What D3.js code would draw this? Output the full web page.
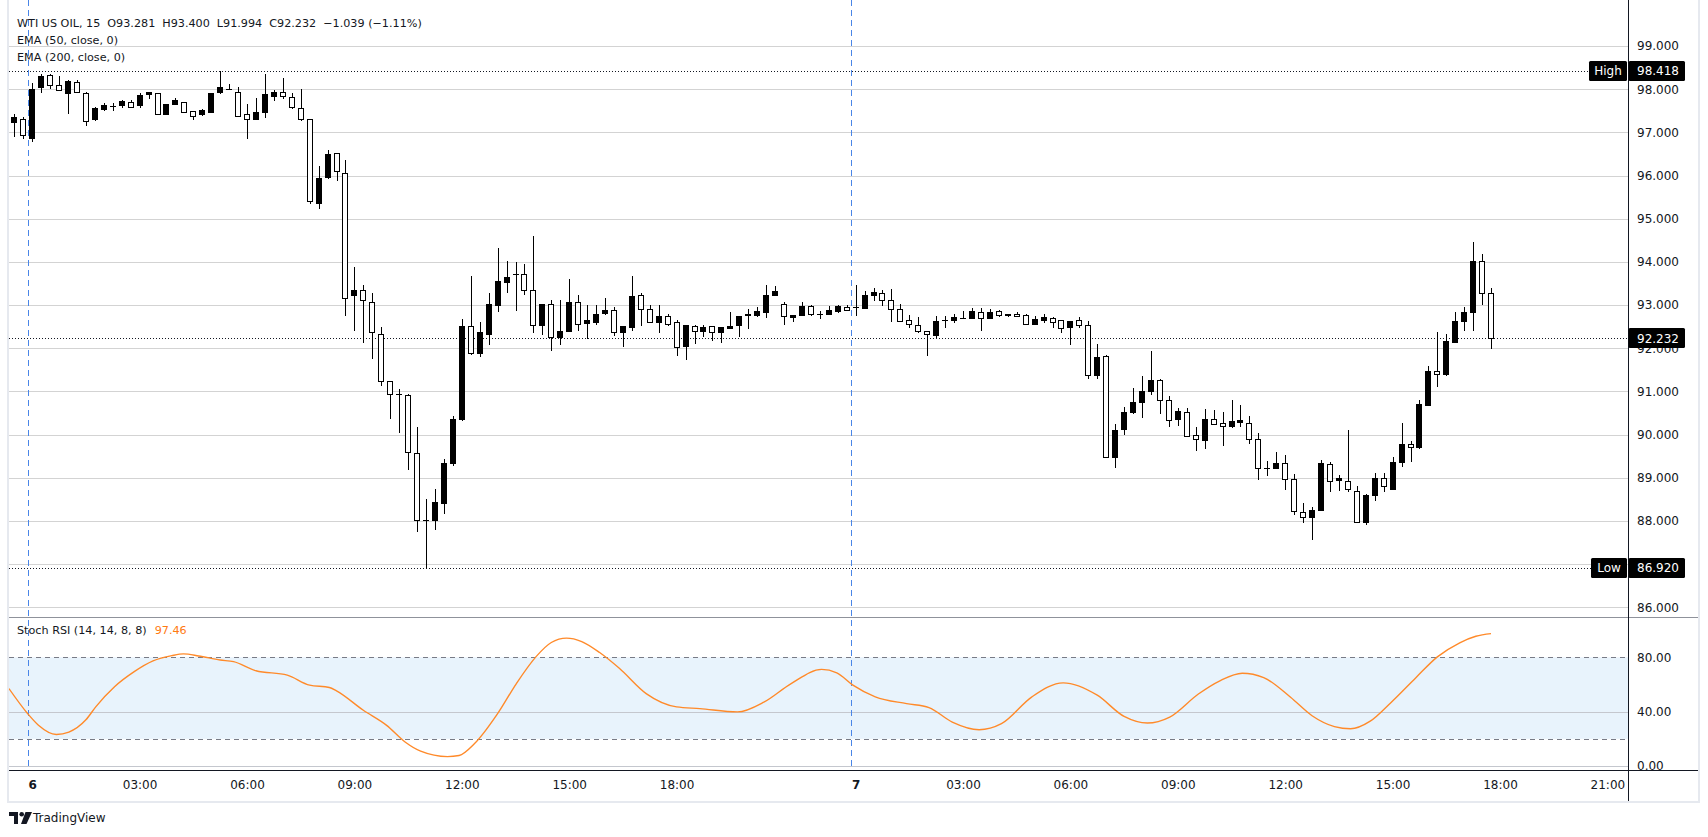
<!DOCTYPE html>
<html><head><meta charset="utf-8">
<script src="https://cdn.jsdelivr.net/npm/d3@7"></script>
<style>
body{margin:0;background:#fff}
svg{display:block}
text{font-family:"DejaVu Sans",Verdana,sans-serif;fill:#131722}
</style></head>
<body><svg id="c" width="1708" height="837"></svg>
<script>
// ---------------- DATA ----------------
const symbolTitle = "WTI US OIL, 15";
const legendOHLC = ["O93.281","H93.400","L91.994","C92.232","\u22121.039 (\u22121.11%)"];
const emaLabels = ["EMA (50, close, 0)","EMA (200, close, 0)"];
const opens = [97.23,97.32,96.86,98.04,98.32,98.09,97.91,98.17,97.92,97.31,
97.53,97.60,97.64,97.70,97.63,97.89,97.90,97.43,97.65,97.71,
97.50,97.42,97.47,97.93,98.00,97.94,97.42,97.31,97.47,97.84,
97.94,97.82,97.57,97.32,95.37,95.97,96.52,96.07,93.23,93.34,
93.08,92.34,91.24,90.93,90.91,89.58,88.02,88.02,88.41,89.34,
90.37,92.51,91.90,92.33,93.00,93.54,93.71,93.71,93.36,92.54,
93.02,92.25,92.41,93.06,92.59,92.61,92.82,92.88,92.37,92.49,
93.23,92.91,92.61,92.74,92.61,92.05,92.51,92.41,92.51,92.37,
92.48,92.53,92.76,92.78,92.84,93.23,93.02,92.73,92.78,92.98,
92.80,92.80,92.87,92.96,92.96,92.94,93.24,93.29,93.11,92.92,
92.65,92.53,92.41,92.30,92.65,92.66,92.70,92.70,92.84,92.69,
92.86,92.80,92.79,92.76,92.57,92.66,92.69,92.65,92.50,92.65,
92.53,91.39,91.81,89.49,90.12,90.53,90.76,91.01,91.27,90.79,
90.35,90.52,89.98,89.87,90.35,90.27,90.19,90.30,90.28,89.90,
89.22,89.22,89.34,88.98,88.20,88.09,88.25,89.32,88.94,88.93,
88.70,87.98,88.59,89.00,88.74,89.36,89.78,89.72,90.69,91.47,
91.41,92.15,92.63,92.83,94.02,93.281];
const highs = [97.43,97.35,98.14,98.36,98.34,98.30,98.22,98.22,97.94,97.59,
97.69,97.69,97.74,97.75,97.90,97.93,97.92,97.66,97.80,97.71,
97.50,97.54,97.90,98.418,98.12,98.05,97.65,97.79,98.34,97.98,
98.26,97.90,98.00,97.32,96.22,96.59,96.53,96.37,93.88,93.46,
93.27,92.49,91.24,91.05,90.93,90.18,88.50,88.74,89.43,90.44,
92.67,93.67,92.60,93.27,94.31,94.02,93.99,93.94,94.61,93.02,
93.11,93.11,93.60,93.23,93.00,93.00,93.16,92.96,92.51,93.67,
93.27,93.00,93.00,92.80,92.66,92.53,92.54,92.53,92.51,92.49,
92.83,92.74,92.91,92.96,93.47,93.44,93.07,92.77,93.08,93.01,
92.86,92.98,92.99,92.99,93.46,93.32,93.39,93.35,93.38,93.02,
92.76,92.73,92.41,92.75,92.75,92.79,92.86,92.94,92.94,92.91,
92.88,92.80,92.83,92.80,92.75,92.79,92.73,92.65,92.62,92.73,
92.62,92.09,91.85,90.25,90.65,91.08,91.35,91.93,91.29,90.89,
90.61,90.61,90.18,90.59,90.57,90.53,90.81,90.69,90.43,90.04,
89.39,89.59,89.53,89.08,88.42,88.32,89.42,89.36,89.06,90.10,
88.82,88.62,89.12,89.10,89.48,90.26,89.86,90.81,91.59,92.37,
92.33,92.83,92.96,94.45,94.18,93.400];
const lows = [96.92,96.87,96.81,97.94,98.02,97.97,97.45,97.94,97.17,97.29,
97.51,97.51,97.59,97.59,97.59,97.80,97.43,97.43,97.65,97.46,
97.31,97.40,97.47,97.91,98.00,97.37,96.87,97.31,97.35,97.75,
97.80,97.57,97.29,95.37,95.25,95.94,95.90,92.78,92.43,92.14,
91.77,91.16,90.39,90.07,89.20,87.76,86.92,87.81,88.18,89.30,
90.33,91.87,91.82,92.10,92.87,93.31,92.89,93.26,92.38,92.33,
91.95,92.10,92.41,92.43,92.24,92.57,92.80,92.30,92.06,92.43,
92.54,92.61,92.37,92.53,91.85,91.75,92.13,92.29,92.19,92.14,
92.48,92.29,92.48,92.75,92.73,93.23,92.57,92.64,92.77,92.77,
92.69,92.80,92.85,92.88,92.76,92.94,93.11,93.00,92.64,92.62,
92.50,92.38,91.85,92.26,92.50,92.60,92.70,92.70,92.43,92.69,
92.75,92.75,92.74,92.55,92.57,92.60,92.50,92.38,92.10,92.50,
91.31,91.31,89.47,89.26,90.02,90.51,90.41,90.95,90.51,90.19,
90.22,89.96,89.64,89.70,90.24,89.75,90.17,90.21,89.80,88.98,
89.06,89.22,88.74,88.16,87.98,87.59,88.25,88.70,88.72,88.70,
87.98,87.94,88.49,88.70,88.74,89.27,89.38,89.70,90.69,91.13,
91.39,92.15,92.43,92.43,93.02,91.994];
const closes = [97.36,96.95,98.00,98.30,98.09,97.98,98.20,97.94,97.27,97.56,
97.63,97.61,97.72,97.59,97.86,97.93,97.43,97.65,97.74,97.46,
97.39,97.51,97.90,98.06,98.00,97.39,97.30,97.46,97.88,97.94,
97.85,97.59,97.32,95.42,95.95,96.49,96.10,93.16,93.34,93.11,
92.37,91.24,90.93,90.93,89.59,88.02,88.03,88.44,89.34,90.37,
92.51,91.89,92.37,93.02,93.55,93.66,93.71,93.36,92.54,93.02,
92.25,92.41,93.06,92.57,92.65,92.80,92.88,92.37,92.51,93.20,
92.91,92.61,92.74,92.57,92.03,92.53,92.41,92.49,92.37,92.49,
92.51,92.74,92.79,92.86,93.23,93.32,92.74,92.77,92.98,92.79,
92.80,92.88,92.97,92.88,92.96,93.23,93.30,93.11,92.91,92.62,
92.55,92.41,92.32,92.62,92.65,92.73,92.70,92.86,92.69,92.83,
92.78,92.76,92.74,92.57,92.67,92.73,92.61,92.46,92.62,92.54,
91.37,91.79,89.47,90.10,90.53,90.76,91.01,91.27,90.79,90.33,
90.54,89.96,89.90,90.37,90.24,90.21,90.31,90.33,89.90,89.22,
89.22,89.34,88.96,88.22,88.09,88.25,89.34,88.92,89.00,88.73,
87.98,88.60,89.00,88.80,89.37,89.78,89.72,90.71,91.47,91.41,
92.17,92.63,92.83,94.02,93.27,92.232];
const highValue = 98.418, lowValue = 86.920, lastValue = 92.232;
const priceTicks = [86,87,88,89,90,91,92,93,94,95,96,97,98,99];
const stochTicks = [0,40,80];
const stochBands = [20,80];
const stochIdx = [-0.6,1.5,2.7,4.7,6.1,8.0,9.1,11.2,13.4,15.5,17.6,18.9,20.6,23,24.5,27,30.5,33,35.2,36,39,41.6,43.7,45.4,48.4,49.7,51.4,54,56.1,58.3,60,61.7,63.4,65.4,67.6,70.6,74,76.6,80.8,83.8,86.8,90.2,91.9,93.7,96.2,99.7,102.2,104.8,107.8,110.3,113.7,117.2,121,124,126.6,129.1,132.3,134.7,137.2,139.6,142.6,145,147.5,149.3,151.5,153.8,156.6,159,161.5,163.3,165];
const stochVal = [57,38.5,30,23.2,25,34,43.5,58.3,69.4,77.3,81.2,82.5,81,78,76.8,70.1,66.9,59.5,57.8,55.3,41,29.9,17.5,10.9,6.9,7.7,16.3,38.5,60.7,80.5,90.9,94.1,91.6,83.5,71.9,53.3,43.5,42.2,39.8,47.2,60.7,71.1,68.6,59.5,50.9,45.9,43,32.3,26.7,31.1,50.9,61.2,52.1,36.5,31.6,36,53,62.7,68.3,65.1,50.6,37,29,27.4,33,46.6,65,80.3,90.7,95.5,97.46];
const stochTitle = "Stoch RSI (14, 14, 8, 8)";
const stochLast = "97.46";
const timeTickIdx = [2,14,26,38,50,62,74,94,106,118,130,142,154,166,178];
const timeTickLabels = ["6","03:00","06:00","09:00","12:00","15:00","18:00","7","03:00","06:00","09:00","12:00","15:00","18:00","21:00"];
const sessionBreaks = [1.5,93.5];

// ---------------- LAYOUT ----------------
const L = 9, R = 1698, AX = 1628.5, PB = 617.5, SB = 770.5, FB = 801;
const svg = d3.select("#c");
const x = d3.scaleLinear().domain([0,165]).range([14.3,1491.05]);
const y = d3.scaleLinear().domain([86,99]).range([607.3,46]);
const ys = d3.scaleLinear().domain([0,80]).range([766,657.3]);

const defs = svg.append("defs");
defs.append("clipPath").attr("id","cp").append("rect").attr("x",L).attr("y",0).attr("width",AX-L).attr("height",PB);
defs.append("clipPath").attr("id","cs").append("rect").attr("x",L).attr("y",PB).attr("width",AX-L).attr("height",SB-PB);
defs.append("clipPath").attr("id","cl").append("rect").attr("x",AX).attr("y",PB+1).attr("width",R-AX).attr("height",SB-PB-1);

// frame
svg.append("rect").attr("x",L-1).attr("y",-2).attr("width",R-L+2).attr("height",FB+3)
  .attr("fill","none").attr("stroke","#e6e9ef").attr("stroke-width",2);

// price grid
const gp = svg.append("g").attr("clip-path","url(#cp)");
gp.selectAll("line.g").data(priceTicks).join("line")
  .attr("x1",L).attr("x2",AX).attr("y1",d=>Math.round(y(d))+0.5).attr("y2",d=>Math.round(y(d))+0.5)
  .attr("stroke","#d3d3d3");

// stoch band + grid
const gs = svg.append("g").attr("clip-path","url(#cs)");
gs.append("rect").attr("x",L).attr("width",AX-L).attr("y",ys(stochBands[1])).attr("height",ys(stochBands[0])-ys(stochBands[1]))
  .attr("fill","#e8f3fc");
gs.selectAll("line.g").data(stochTicks.filter(d=>d!==80)).join("line")
  .attr("x1",L).attr("x2",AX).attr("y1",d=>Math.round(ys(d))+0.5).attr("y2",d=>Math.round(ys(d))+0.5)
  .attr("stroke","#c4c7ce");
gs.selectAll("line.b").data(stochBands).join("line")
  .attr("x1",L).attr("x2",AX).attr("y1",d=>Math.round(ys(d))+0.5).attr("y2",d=>Math.round(ys(d))+0.5)
  .attr("stroke","#787b86").attr("stroke-dasharray","5 4");

// session breaks
svg.append("g").selectAll("line").data(sessionBreaks).join("line")
  .attr("x1",d=>Math.round(x(d))+0.5).attr("x2",d=>Math.round(x(d))+0.5).attr("y1",0).attr("y2",SB)
  .attr("stroke","#4985e7").attr("stroke-dasharray","6 4");

// dotted hi/lo/last
const dot = svg.append("g");
[[highValue,1589],[lowValue,1591],[lastValue,AX]].forEach(([v,xe])=>{
  dot.append("line").attr("x1",L).attr("x2",xe).attr("y1",Math.round(y(v))+0.5).attr("y2",Math.round(y(v))+0.5)
    .attr("stroke","#131722").attr("stroke-dasharray","1 2");
});

// candles
const candles = opens.map((o,i)=>({i,o,h:highs[i],l:lows[i],c:closes[i]}));
const gc = svg.append("g").attr("clip-path","url(#cp)");
candles.forEach(d=>{
  const cx = Math.round(x(d.i));
  const up = d.c >= d.o;
  gc.append("line").attr("x1",cx+0.5).attr("x2",cx+0.5)
    .attr("y1",Math.round(y(d.h))).attr("y2",Math.round(y(d.l))+1).attr("stroke","#000");
  const top = Math.round(y(Math.max(d.o,d.c))), bot = Math.round(y(Math.min(d.o,d.c)));
  if (bot - top < 1) {
    gc.append("line").attr("x1",cx-3).attr("x2",cx+3).attr("y1",top+0.5).attr("y2",top+0.5).attr("stroke","#000");
  } else {
    gc.append("rect").attr("x",cx-2.5).attr("y",top+0.5).attr("width",5).attr("height",bot-top)
      .attr("fill",up?"#000":"#fff").attr("stroke","#000");
  }
});

// stoch line
svg.append("path").attr("clip-path","url(#cs)")
  .datum(stochIdx.map((v,i)=>[v,stochVal[i]]))
  .attr("d",d3.line().x(d=>x(d[0])).y(d=>ys(d[1])).curve(d3.curveMonotoneX))
  .attr("fill","none").attr("stroke","#ff8a2a").attr("stroke-width",1.4);

// separators & axes lines
svg.append("line").attr("x1",L).attr("x2",R).attr("y1",PB).attr("y2",PB).attr("stroke","#8f929b");
svg.append("line").attr("x1",L).attr("x2",R).attr("y1",SB).attr("y2",SB).attr("stroke","#131722");
svg.append("line").attr("x1",AX).attr("x2",AX).attr("y1",0).attr("y2",FB).attr("stroke","#131722");

// price axis labels
const pa = svg.append("g").attr("transform",`translate(${AX},0)`)
  .call(d3.axisRight(y).tickValues(priceTicks).tickFormat(d3.format(".3f")).tickSize(0).tickPadding(8.5));
pa.select(".domain").remove();
pa.selectAll("text").attr("font-size",12).attr("font-family","DejaVu Sans").attr("fill","#131722");

// stoch axis labels (clipped to the stoch pane, outer group holds the clip)
const saWrap = svg.append("g").attr("clip-path","url(#cl)");
const sa = saWrap.append("g").attr("transform",`translate(${AX},0)`)
  .call(d3.axisRight(ys).tickValues(stochTicks).tickFormat(d3.format(".2f")).tickSize(0).tickPadding(8.5));
sa.select(".domain").remove();
sa.selectAll("text").attr("font-size",12).attr("font-family","DejaVu Sans").attr("fill","#131722");

// label boxes
function box(v, txt, x0, x1, anchorX, anchor){
  const cy = y(v);
  svg.append("rect").attr("x",x0).attr("y",Math.round(cy)-10).attr("width",x1-x0).attr("height",20).attr("rx",1.5).attr("fill","#000");
  svg.append("text").attr("x",anchorX).attr("y",cy).attr("dy","0.36em").attr("text-anchor",anchor)
    .attr("font-size",12).style("fill","#fff").text(txt);
}
box(highValue, d3.format(".3f")(highValue), AX, 1685, 1637, "start");
box(lowValue, d3.format(".3f")(lowValue), AX, 1685, 1637, "start");
box(lastValue, d3.format(".3f")(lastValue), AX, 1685, 1637, "start");
box(highValue, "High", 1589, 1627, 1608, "middle");
box(lowValue, "Low", 1591, 1627, 1609, "middle");

// time axis
const ta = svg.append("g").attr("transform",`translate(0,${SB})`)
  .call(d3.axisBottom(x).tickValues(timeTickIdx).tickFormat((d,i)=>timeTickLabels[i]).tickSize(0).tickPadding(0));
ta.select(".domain").remove();
ta.selectAll("text").attr("y",14.5).attr("dy","0.36em").attr("font-size",12).attr("font-family","DejaVu Sans")
  .attr("fill","#131722").attr("font-weight",(d,i)=>/^\d$/.test(timeTickLabels[i])?"bold":"normal");

// legend
const FS = 11.2;
const lg = svg.append("g");
const l1 = lg.append("text").attr("x",17).attr("y",23).attr("dy","0.36em").attr("font-size",FS);
l1.append("tspan").text(symbolTitle);
legendOHLC.forEach(s=>l1.append("tspan").attr("dx",7).text(s));
emaLabels.forEach((s,i)=>lg.append("text").attr("x",17).attr("y",40+i*16.5).attr("dy","0.36em").attr("font-size",FS).text(s));

const st = svg.append("text").attr("x",17).attr("y",630).attr("dy","0.36em").attr("font-size",FS);
st.append("tspan").text(stochTitle);
st.append("tspan").attr("dx",8).style("fill","#ff7a12").text(stochLast);

// TradingView footer
const tv = svg.append("g").attr("transform","translate(9,812)");
tv.append("path").attr("d","M0 0H9V12H5V4H0Z").attr("fill","#131722");
tv.append("circle").attr("cx",12.7).attr("cy",2.3).attr("r",2.3).attr("fill","#131722");
tv.append("path").attr("d","M16.5 0H23L17.5 12H12Z").attr("fill","#131722");
svg.append("text").attr("x",33).attr("y",818).attr("dy","0.36em").attr("font-size",12).text("TradingView");
</script></body></html>
